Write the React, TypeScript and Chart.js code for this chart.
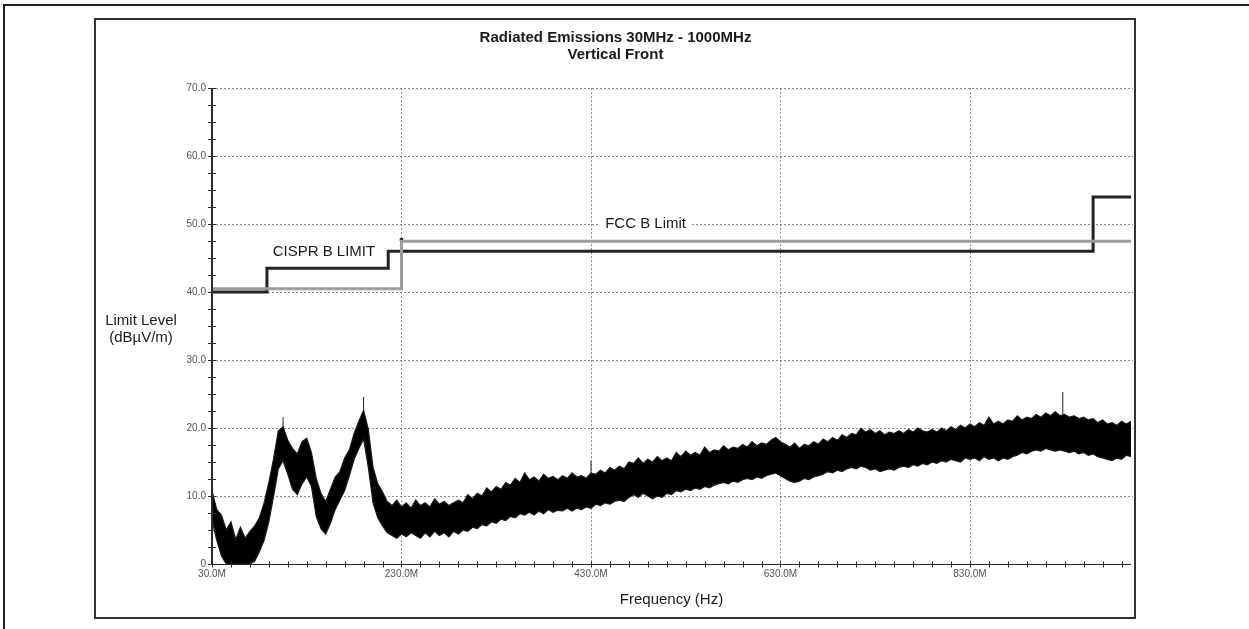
import React, { useEffect, useRef } from 'react';
import { Chart, registerables } from 'chart.js';

Chart.register(...registerables);

const chartTitle = ['Radiated Emissions 30MHz - 1000MHz', 'Vertical Front'];
const xAxisTitle = 'Frequency (Hz)';
const yAxisTitle = ['Limit Level', '(dBµV/m)'];

const xMin = 30;
const xMax = 1000;
const yMin = 0;
const yMax = 70;
const xTickValues = [30, 230, 430, 630, 830];
const yTickValues = [0, 10, 20, 30, 40, 50, 60, 70];
const xMinorStep = 20;
const yMinorStep = 2.5;

// Measured emission trace: envelope of the swept peak-detector band (MHz, dBµV/m)
const traceFreqs = [
  30, 35, 40, 45, 50, 55, 60, 65, 70, 75, 80, 85, 90, 95, 100, 105, 110, 115, 120, 125,
  130, 135, 140, 145, 150, 155, 160, 165, 170, 175, 180, 185, 190, 195, 200, 205, 210, 215, 220, 225,
  230, 235, 240, 245, 250, 255, 260, 265, 270, 275, 280, 285, 290, 295, 300, 305, 310, 315, 320, 325,
  330, 335, 340, 345, 350, 355, 360, 365, 370, 375, 380, 385, 390, 395, 400, 405, 410, 415, 420, 425,
  430, 435, 440, 445, 450, 455, 460, 465, 470, 475, 480, 485, 490, 495, 500, 505, 510, 515, 520, 525,
  530, 535, 540, 545, 550, 555, 560, 565, 570, 575, 580, 585, 590, 595, 600, 605, 610, 615, 620, 625,
  630, 635, 640, 645, 650, 655, 660, 665, 670, 675, 680, 685, 690, 695, 700, 705, 710, 715, 720, 725,
  730, 735, 740, 745, 750, 755, 760, 765, 770, 775, 780, 785, 790, 795, 800, 805, 810, 815, 820, 825,
  830, 835, 840, 845, 850, 855, 860, 865, 870, 875, 880, 885, 890, 895, 900, 905, 910, 915, 920, 925,
  930, 935, 940, 945, 950, 955, 960, 965, 970, 975, 980, 985, 990, 995, 1000,
];
const traceUpper = [
  10.8, 8.0, 7.2, 5.0, 6.2, 3.6, 5.4, 3.8, 4.8, 5.6, 6.8, 9.0, 12.0, 15.5, 19.6, 20.2, 18.2, 17.0, 16.2, 18.0,
  18.5, 16.4, 12.6, 10.4, 9.2, 11.0, 12.8, 13.6, 15.6, 16.8, 19.2, 21.0, 22.6, 19.8, 14.2, 11.8, 10.6, 9.2, 8.6, 9.4,
  8.4, 9.0, 8.2, 9.4, 8.6, 9.0, 8.4, 9.6, 8.8, 9.2, 8.6, 9.0, 9.4, 9.0, 10.2, 9.6, 10.4, 10.0, 11.2, 10.6,
  11.4, 11.0, 12.0, 11.6, 12.6, 12.0, 13.4, 12.4, 12.8, 12.2, 13.2, 12.6, 12.9, 12.4, 13.0, 12.6, 13.4, 12.8, 13.0, 12.6,
  13.4, 13.2, 13.8, 13.4, 14.2, 13.8, 14.4, 14.0, 15.0, 14.8, 15.6, 14.8, 15.4, 15.0, 15.8, 15.2, 15.6, 15.2, 16.4, 15.8,
  16.6, 16.0, 16.4, 16.0, 17.2, 16.4, 16.8, 16.6, 17.4, 16.8, 17.2, 17.0, 17.6, 17.2, 18.0, 17.4, 17.8, 17.6, 18.2, 18.6,
  18.0, 17.6, 17.2, 17.8, 17.0, 17.6, 17.4, 18.0, 17.6, 18.4, 18.0, 18.6, 18.2, 19.0, 18.6, 19.2, 19.0, 20.0, 19.4, 19.8,
  19.2, 19.6, 19.0, 19.4, 19.2, 19.6, 19.2, 19.8, 19.4, 20.0, 19.6, 19.4, 19.8, 19.4, 20.0, 19.6, 20.2, 19.8, 20.4, 20.0,
  20.6, 20.2, 20.8, 20.4, 21.6, 20.6, 21.0, 20.6, 21.2, 21.0, 21.8, 21.2, 21.6, 21.4, 22.0, 21.6, 22.2, 21.8, 22.4, 21.8,
  22.0, 21.6, 21.8, 21.4, 21.6, 21.2, 21.4, 20.8, 21.2, 20.6, 20.8, 20.4, 21.0, 20.6, 21.0,
];
const traceLower = [
  6.5, 3.5, 1.2, 0, 0, 0, 0, 0, 0, 0.4, 1.8, 3.5, 6.2, 10.0, 14.0, 15.2, 13.2, 11.0, 10.2, 11.8,
  12.8, 11.4, 7.0, 5.2, 4.4, 6.0, 8.0, 9.4, 10.8, 13.0, 15.4, 17.0, 18.4, 14.2, 9.0, 6.8, 5.6, 4.6, 4.2, 3.8,
  4.4, 4.0, 4.6, 4.2, 3.8, 4.6, 4.0, 4.8, 4.2, 4.6, 4.0, 4.8, 4.4, 5.0, 4.8, 5.4, 5.2, 5.8, 5.6, 6.2,
  6.0, 6.6, 6.4, 7.0, 6.8, 7.4, 7.2, 7.6, 7.2, 7.8, 7.4, 8.0, 7.6, 7.9, 7.8, 8.2, 7.8, 8.2, 8.0, 8.4,
  8.2, 8.8, 8.6, 9.0, 8.8, 9.2, 9.4, 9.2, 9.8, 10.2, 9.8, 10.4, 10.0, 9.6, 10.0, 9.8, 10.4, 10.2, 10.8, 10.6,
  11.0, 10.8, 11.2, 11.0, 11.4, 11.2, 11.6, 11.8, 12.0, 11.8, 12.2, 12.0, 12.4, 12.6, 12.4, 12.8, 12.6, 13.0, 13.2, 13.4,
  13.0, 12.6, 12.2, 12.0, 12.2, 12.6, 12.4, 12.8, 13.0, 13.2, 13.6, 13.4, 13.8, 13.6, 14.0, 14.2, 14.0, 14.4, 14.2, 13.8,
  14.0, 13.6, 13.8, 14.0, 13.8, 14.2, 14.4, 14.2, 14.6, 14.4, 14.8, 14.6, 15.0, 14.8, 15.2, 15.0, 15.4, 15.2, 15.0, 15.6,
  15.4, 15.6, 15.2, 15.8, 15.4, 15.6, 15.2, 15.6, 15.4, 15.8, 16.0, 16.4, 16.2, 16.6, 16.8, 16.6, 17.0, 16.8, 16.6, 16.8,
  16.6, 16.4, 16.6, 16.2, 16.4, 16.0, 16.2, 15.8, 15.6, 15.4, 15.2, 15.6, 15.4, 16.0, 15.8,
];

// Isolated peaks above the band
const spikeFreqs = [105, 190, 430, 928];
const spikeLows = [19.5, 22.0, 13.0, 21.5];
const spikeHighs = [21.6, 24.6, 15.2, 25.3];

// Limit lines (each level holds from its frequency up to the next one)
const cisprFreqs = [30, 88, 216, 960, 1000];
const cisprLevels = [40, 43.5, 46, 54, 54];
const fccFreqs = [30, 230, 1000];
const fccLevels = [40.5, 47.5, 47.5];
const markerFreqs = [230];
const markerLevels = [47.7];

const annotationTexts = ['CISPR B LIMIT', 'FCC B Limit'];
const annotationFreqs = [94, 445];
const annotationLevels = [45.9, 50.1];
const annotationMasked = [false, true];

const FONT = "'Liberation Sans', Arial, Helvetica, sans-serif";

const framePlugin = {
  id: 'emcFrame',
  beforeDatasetsDraw(chart: any) {
    const { ctx, chartArea: a, scales } = chart;
    const x = scales.x;
    const y = scales.y;
    ctx.save();
    ctx.strokeStyle = '#8a8a8a';
    ctx.lineWidth = 1;
    ctx.setLineDash([2, 2]);
    xTickValues.forEach((v) => {
      if (v <= xMin) return;
      const px = Math.round(x.getPixelForValue(v)) + 0.5;
      ctx.beginPath();
      ctx.moveTo(px, a.top);
      ctx.lineTo(px, a.bottom);
      ctx.stroke();
    });
    yTickValues.forEach((v) => {
      if (v <= yMin) return;
      const py = Math.round(y.getPixelForValue(v)) + 0.5;
      ctx.beginPath();
      ctx.moveTo(a.left, py);
      ctx.lineTo(a.right + 2, py);
      ctx.stroke();
    });
    ctx.setLineDash([]);
    // annotation labels
    ctx.font = `15px ${FONT}`;
    ctx.textBaseline = 'middle';
    ctx.textAlign = 'left';
    annotationTexts.forEach((t, i) => {
      const px = x.getPixelForValue(annotationFreqs[i]);
      const py = y.getPixelForValue(annotationLevels[i]);
      if (annotationMasked[i]) {
        const w = ctx.measureText(t).width;
        ctx.fillStyle = '#ffffff';
        ctx.fillRect(px - 5, py - 8, w + 10, 16);
      }
      ctx.fillStyle = '#1a1a1a';
      ctx.fillText(t, px, py);
    });
    // y axis title (horizontal)
    ctx.font = `15px ${FONT}`;
    ctx.textAlign = 'center';
    ctx.fillStyle = '#1a1a1a';
    yAxisTitle.forEach((t, i) => {
      ctx.fillText(t, 44, 300 + i * 17);
    });
    ctx.restore();
  },
  afterDatasetsDraw(chart: any) {
    const { ctx, chartArea: a, scales } = chart;
    const x = scales.x;
    const y = scales.y;
    ctx.save();
    ctx.strokeStyle = '#2a2a2a';
    // y axis line
    ctx.lineWidth = 2;
    const ax = Math.round(a.left);
    ctx.beginPath();
    ctx.moveTo(ax, a.top);
    ctx.lineTo(ax, a.bottom);
    ctx.stroke();
    // x axis line
    ctx.lineWidth = 1.2;
    const ay = Math.round(a.bottom) + 0.5;
    ctx.beginPath();
    ctx.moveTo(a.left, ay);
    ctx.lineTo(a.right, ay);
    ctx.stroke();
    // ticks crossing the axes
    ctx.lineWidth = 1;
    for (let v = yMin; v <= yMax + 1e-6; v += yMinorStep) {
      const py = Math.round(y.getPixelForValue(v)) + 0.5;
      ctx.beginPath();
      ctx.moveTo(ax - 4, py);
      ctx.lineTo(ax + 4, py);
      ctx.stroke();
    }
    for (let v = xMin; v <= xMax; v += xMinorStep) {
      const px = Math.round(x.getPixelForValue(v)) + 0.5;
      ctx.beginPath();
      ctx.moveTo(px, ay - 3);
      ctx.lineTo(px, ay + 3);
      ctx.stroke();
    }
    ctx.restore();
  },
};

export default function App() {
  const canvasRef = useRef<HTMLCanvasElement | null>(null);

  useEffect(() => {
    const canvas = canvasRef.current;
    if (!canvas) return;

    const upper = traceFreqs.map((f, i) => ({ x: f, y: traceUpper[i] }));
    const lower = traceFreqs.map((f, i) => ({ x: f, y: traceLower[i] }));
    const spikes: any[] = [];
    spikeFreqs.forEach((f, i) => {
      spikes.push({ x: f, y: spikeLows[i] });
      spikes.push({ x: f, y: spikeHighs[i] });
      spikes.push({ x: f, y: null });
    });
    const cispr = cisprFreqs.map((f, i) => ({ x: f, y: cisprLevels[i] }));
    const fcc = fccFreqs.map((f, i) => ({ x: f, y: fccLevels[i] }));
    const markers = markerFreqs.map((f, i) => ({ x: f, y: markerLevels[i] }));

    const chart = new Chart(canvas, {
      type: 'line',
      data: {
        datasets: [
          {
            label: 'Emission lower',
            data: lower,
            borderColor: '#1a1a1a',
            borderWidth: 1.2,
            pointRadius: 0,
            fill: false,
            tension: 0,
          },
          {
            label: 'Emission',
            data: upper,
            borderColor: '#1a1a1a',
            borderWidth: 1.2,
            backgroundColor: '#000',
            pointRadius: 0,
            fill: '-1',
            tension: 0,
          },
          {
            label: 'Peaks',
            data: spikes,
            borderColor: '#222',
            borderWidth: 1,
            pointRadius: 0,
            fill: false,
            spanGaps: false,
          },
          {
            label: 'FCC B Limit',
            data: fcc,
            borderColor: '#9c9c9c',
            borderWidth: 3,
            pointRadius: 0,
            stepped: 'before',
            fill: false,
          },
          {
            label: 'CISPR B LIMIT',
            data: cispr,
            borderColor: '#232323',
            borderWidth: 3,
            pointRadius: 0,
            stepped: 'before',
            fill: false,
          },
          {
            label: 'Marker',
            data: markers,
            borderColor: '#111',
            backgroundColor: '#111',
            showLine: false,
            pointRadius: 1.8,
            pointStyle: 'rect',
          },
        ] as any,
      },
      options: {
        responsive: false,
        animation: false,
        devicePixelRatio: 1,
        layout: { padding: { left: 0, right: 2, top: 0, bottom: 0 } },
        plugins: {
          legend: { display: false },
          tooltip: { enabled: false },
          title: {
            display: true,
            text: chartTitle,
            color: '#1a1a1a',
            font: { family: FONT, size: 15, weight: 'bold', lineHeight: 1.14 },
            padding: { top: 8, bottom: 25 },
          },
        },
        scales: {
          x: {
            type: 'linear',
            min: xMin,
            max: xMax,
            grid: { display: false, drawTicks: false },
            border: { display: false },
            afterBuildTicks: (scale: any) => {
              scale.ticks = xTickValues.map((v) => ({ value: v }));
            },
            afterFit: (scale: any) => {
              scale.height = 52;
            },
            ticks: {
              autoSkip: false,
              maxRotation: 0,
              padding: 4,
              color: '#555',
              font: { family: FONT, size: 10 },
              callback: (v: any) => Number(v).toFixed(1) + 'M',
            },
            title: {
              display: true,
              text: xAxisTitle,
              color: '#1a1a1a',
              font: { family: FONT, size: 15 },
              padding: { top: 0, bottom: 7 },
            },
          },
          y: {
            type: 'linear',
            min: yMin,
            max: yMax,
            grid: { display: false, drawTicks: false },
            border: { display: false },
            afterBuildTicks: (scale: any) => {
              scale.ticks = yTickValues.map((v) => ({ value: v }));
            },
            afterFit: (scale: any) => {
              scale.width = 115;
            },
            ticks: {
              padding: 6,
              color: '#555',
              font: { family: FONT, size: 10 },
              callback: (v: any) => (Number(v) === 0 ? '0' : Number(v).toFixed(1)),
            },
          },
        },
      } as any,
      plugins: [framePlugin],
    });

    return () => {
      chart.destroy();
    };
  }, []);

  return (
    <div
      style={{
        position: 'absolute',
        left: 0,
        top: 0,
        width: 1249,
        height: 629,
        background: '#fff',
        overflow: 'hidden',
      }}
    >
      <div
        style={{
          position: 'absolute',
          left: 3,
          top: 4,
          width: 1400,
          height: 800,
          borderLeft: '2px solid #222',
          borderTop: '2px solid #222',
          boxSizing: 'border-box',
        }}
      />
      <div
        style={{
          position: 'absolute',
          left: 94,
          top: 18,
          width: 1042,
          height: 601,
          border: '2px solid #333',
          boxSizing: 'border-box',
        }}
      />
      <canvas
        ref={canvasRef}
        width={1039}
        height={595}
        style={{ position: 'absolute', left: 97, top: 21, width: 1039, height: 595 }}
      />
    </div>
  );
}
